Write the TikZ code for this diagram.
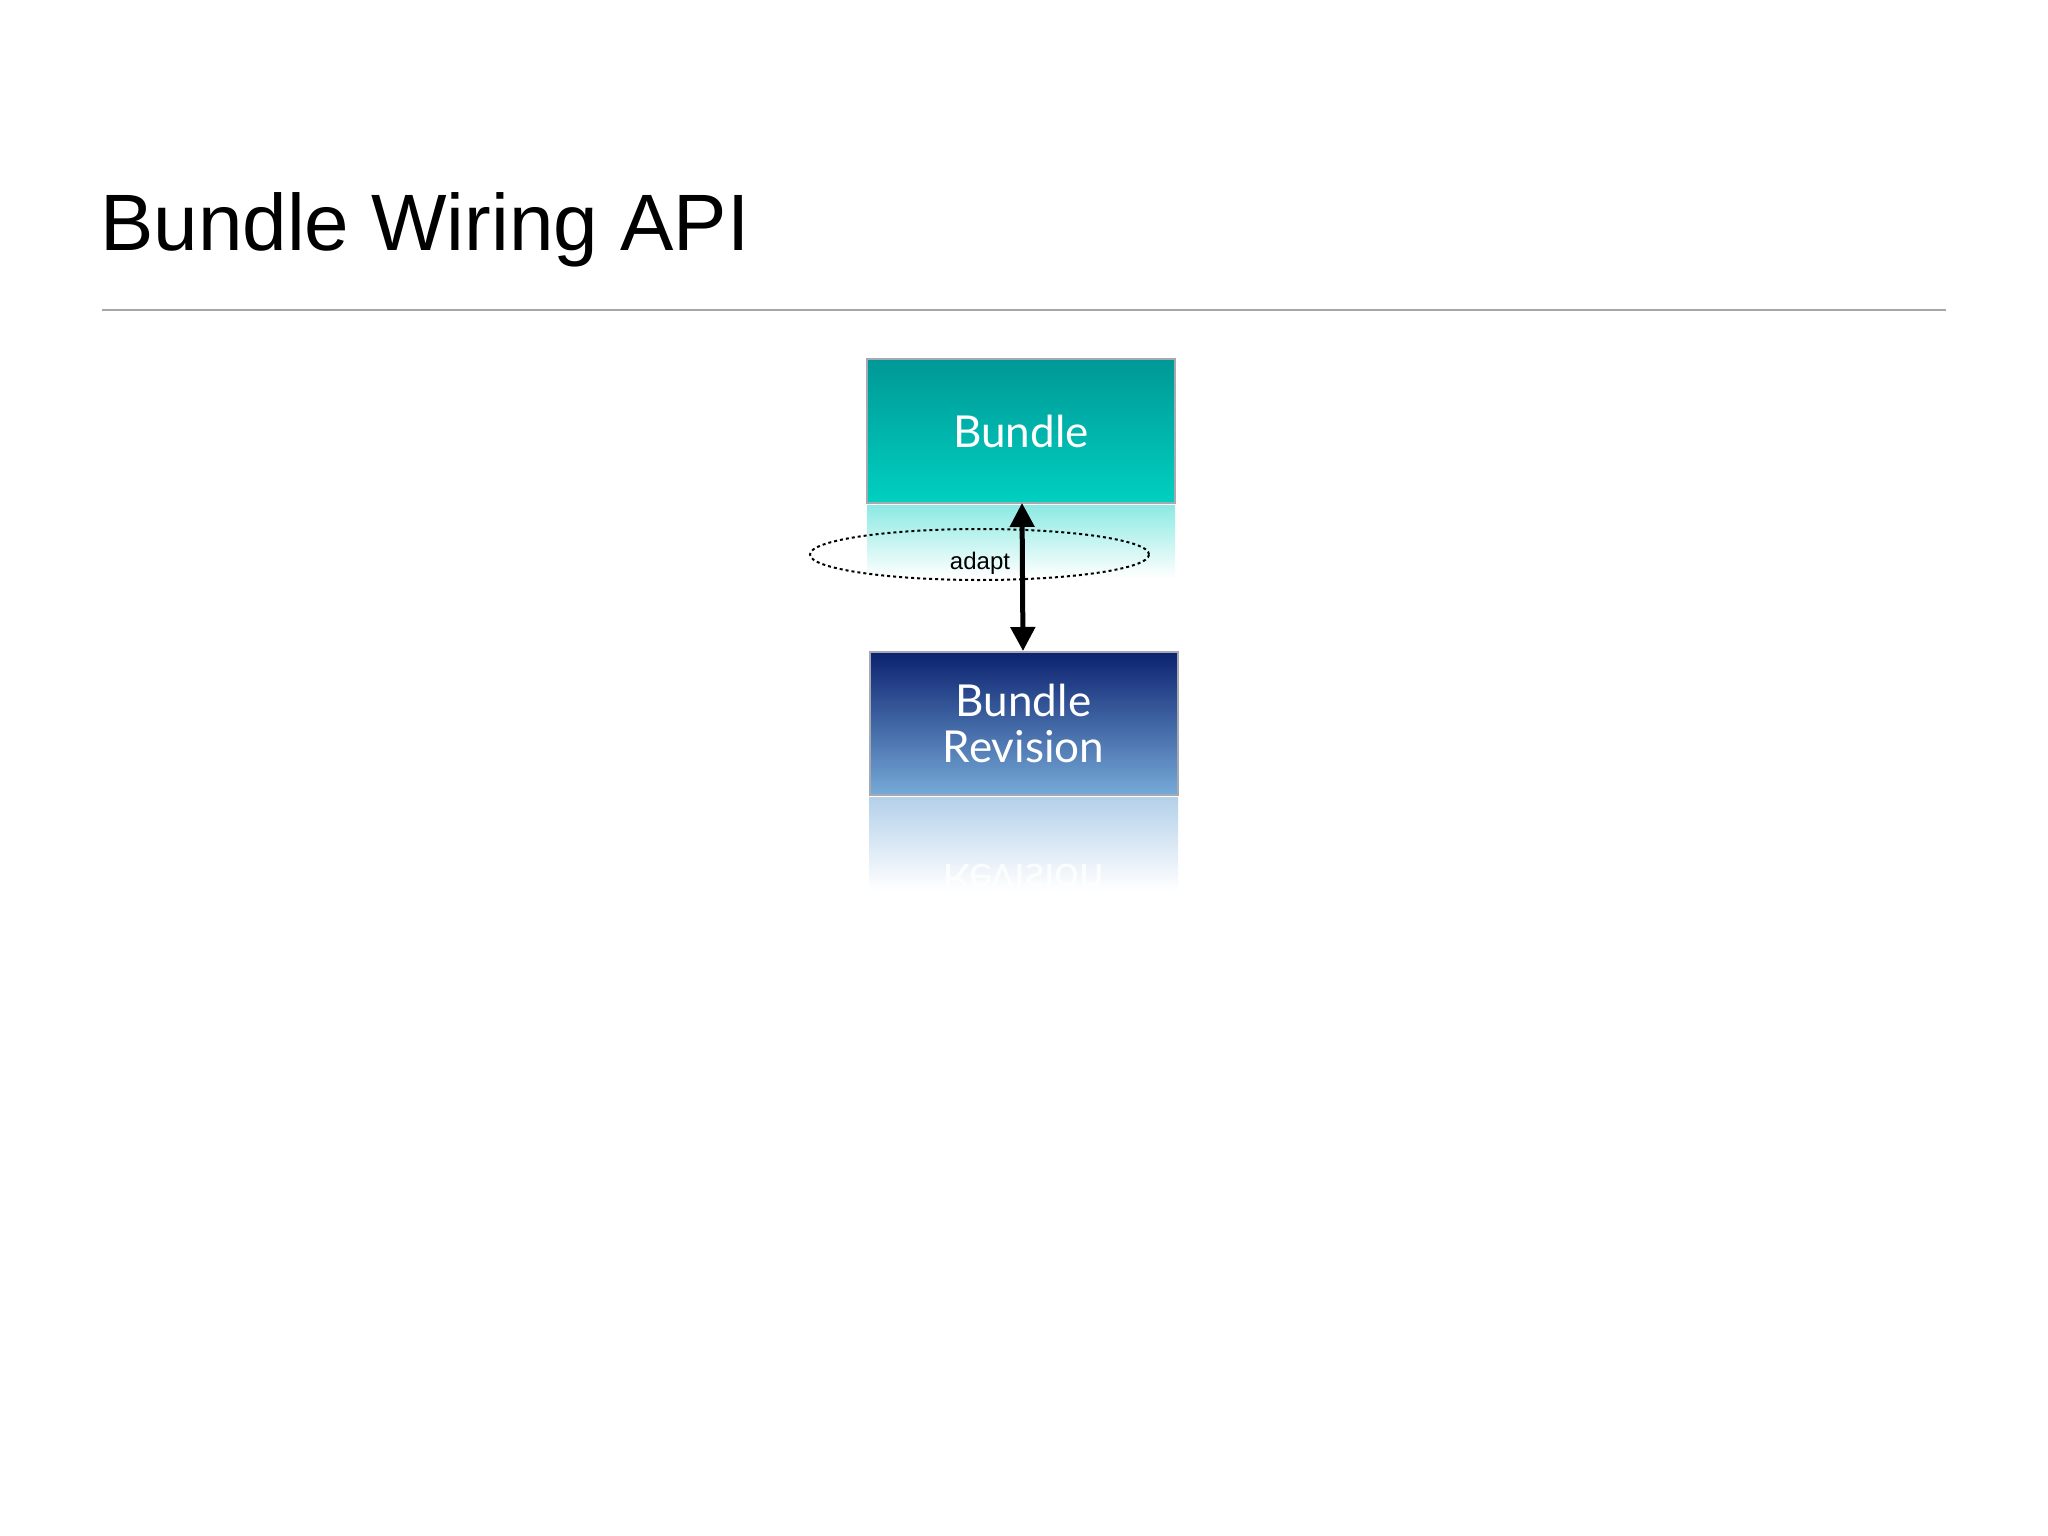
\documentclass[tikz,border=0pt]{standalone}
\usepackage{fontspec}
\setmainfont{Lato}
\newfontfamily\titlefont{Liberation Sans}
\usetikzlibrary{arrows.meta,shapes.geometric}
\definecolor{tealtop}{RGB}{0,152,150}
\definecolor{tealbot}{RGB}{0,208,192}
\definecolor{navytop}{RGB}{12,34,112}
\definecolor{navybot}{RGB}{118,170,216}
\definecolor{boxborder}{RGB}{165,170,178}
\tikzset{
  box/.style={draw=boxborder, line width=2pt, minimum width=308pt, text=white, font=\fontsize{44}{50}\selectfont, align=center},
}
\begin{document}
\begin{tikzpicture}[x=1pt,y=-1pt]
\useasboundingbox (0,0) rectangle (2048,1536);
\fill[white] (0,0) rectangle (2048,1536);
\node[anchor=base west, font=\titlefont\fontsize{80}{90}\selectfont, inner sep=0] (title) at (100,250) {Bundle Wiring API};
\draw[gray!70, line width=2.5pt] (102,310) -- (1946,310);
% reflections
\shade[top color=tealbot!45, bottom color=white] (867,505) rectangle (1175,578);
\shade[top color=navybot!55, bottom color=white] (869,797) rectangle (1178,890);
\begin{scope}
\clip (869,797) rectangle (1178,890);
\node[text=white, opacity=0.8, font=\fontsize{44}{50}\selectfont, yscale=-1] at (1023.5,880) {Revision};
\end{scope}
\node[box, minimum height=144pt, top color=tealtop, bottom color=tealbot] (bundle) at (1021,431) {Bundle};
\node[box, minimum height=143pt, top color=navytop, bottom color=navybot] (rev) at (1023.5,723.5) {Bundle\\[-4pt]Revision};
\node[ellipse, draw, dashed, line width=2pt, minimum width=339pt, minimum height=51pt] (ell) at (979.5,554.5) {};
\node[font=\titlefont\fontsize{24}{28}\selectfont] (adapt) at (980,563) {adapt};
\draw[line width=5pt, {Triangle[length=24pt,width=24pt]}-{Triangle[length=24pt,width=24pt]}, shorten <=-1pt] (bundle.south -| 1022,0) -- (rev.north -| 1023,0);
\end{tikzpicture}
\end{document}
